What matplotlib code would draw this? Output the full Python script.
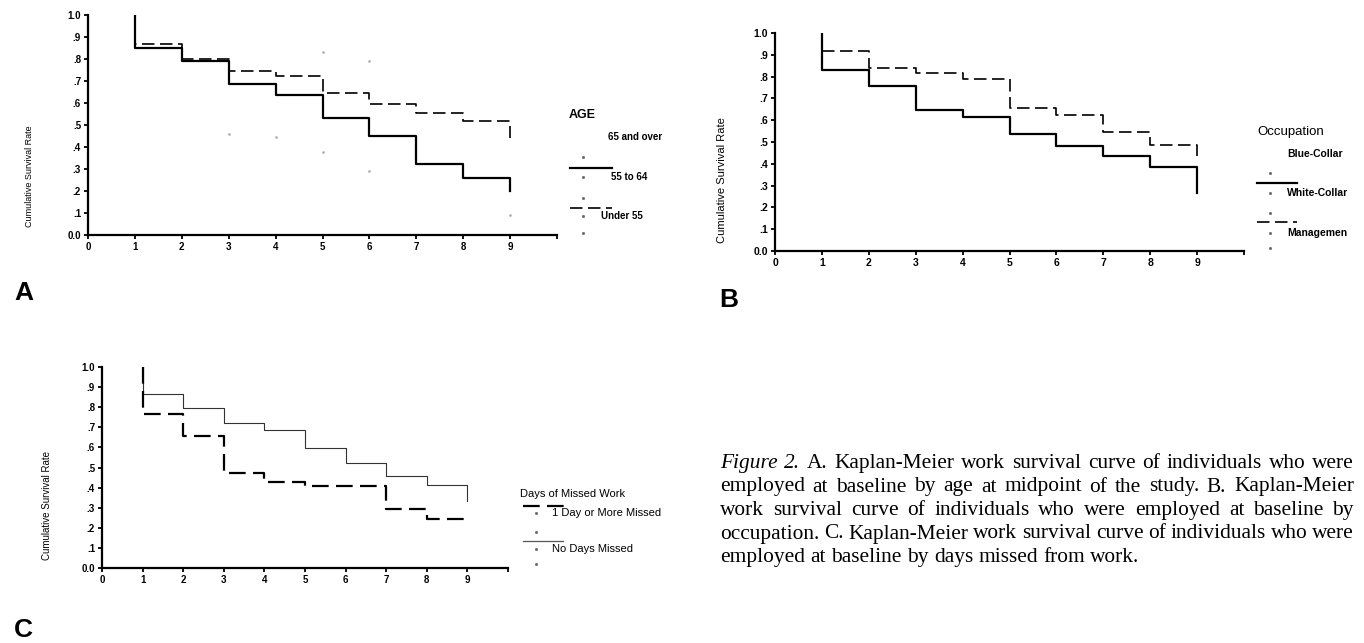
import matplotlib
matplotlib.use("Agg")
import matplotlib.pyplot as plt
from matplotlib.lines import Line2D

plt.rcParams['font.family'] = ['Liberation Sans', 'DejaVu Sans']

# years of follow-up (first point is the start of each curve at year 1)
years = [1, 1, 2, 3, 4, 5, 6, 7, 8, 9]

# A. by age
age_55_64 = [1.0, 0.852, 0.792, 0.685, 0.635, 0.531, 0.452, 0.324, 0.258, 0.198]
age_under55 = [1.0, 0.870, 0.800, 0.745, 0.724, 0.644, 0.596, 0.553, 0.516, 0.442]
# faint leftover marks of the "65 and over" curve
age_65_x = [3, 4, 5, 5, 6, 6, 9]
age_65_y = [0.46, 0.445, 0.377, 0.83, 0.29, 0.79, 0.09]

# B. by occupation
occ_white = [1.0, 0.829, 0.758, 0.648, 0.614, 0.535, 0.483, 0.436, 0.386, 0.268]
occ_mgmt = [1.0, 0.917, 0.838, 0.818, 0.789, 0.655, 0.623, 0.545, 0.486, 0.435]

# C. by days of missed work
missed_some = [1.0, 0.767, 0.655, 0.473, 0.430, 0.410, 0.410, 0.293, 0.242, 0.242]
missed_none = [1.0, 0.867, 0.795, 0.720, 0.688, 0.597, 0.523, 0.457, 0.413, 0.333]

ytick_vals = [0.0, 0.1, 0.2, 0.3, 0.4, 0.5, 0.6, 0.7, 0.8, 0.9, 1.0]
ytick_labels = ['0.0', '.1', '.2', '.3', '.4', '.5', '.6', '.7', '.8', '.9', '1.0']
xtick_labels = ['0', '1', '2', '3', '4', '5', '6', '7', '8', '9', '']

caption = [
    [("Figure", "italic"), ("2.", "italic"), ("A.", "normal"), ("Kaplan-Meier", "normal"),
     ("work", "normal"), ("survival", "normal"), ("curve", "normal"), ("of", "normal"),
     ("individuals", "normal"), ("who", "normal"), ("were", "normal")],
    "employed at baseline by age at midpoint of the study. B. Kaplan-Meier",
    "work survival curve of individuals who were employed at baseline by",
    "occupation. C. Kaplan-Meier work survival curve of individuals who were",
    "employed at baseline by days missed from work.",
]

W, H = 1364, 643
fig = plt.figure(figsize=(W / 100, H / 100), dpi=100)
fig.patch.set_facecolor('white')


def fx(px):
    return px / W


def fy(py):
    return (H - py) / H


DASH = (0, (7.5, 3.3))


def setup_axes(left, top, right, bottom, tsize, ylabel_x, ylabel_size):
    ax = fig.add_axes([fx(left), fy(bottom), fx(right - left), (bottom - top) / H])
    ax.set_xlim(0, 10)
    ax.set_ylim(0, 1.0)
    for s in ['top', 'right']:
        ax.spines[s].set_visible(False)
    for s in ['left', 'bottom']:
        ax.spines[s].set_linewidth(1.6)
        ax.spines[s].set_color('black')
    ax.set_xticks(range(11))
    ax.set_xticklabels(xtick_labels, fontsize=tsize, fontweight='bold')
    ax.set_yticks(ytick_vals)
    ax.set_yticklabels(ytick_labels, fontsize=tsize, fontweight='bold')
    ax.tick_params(axis='both', direction='out', length=3, width=1.3, pad=2)
    ax.patch.set_alpha(0)
    fig.text(fx(ylabel_x), fy(bottom - 8), "Cumulative Survival Rate", rotation=90,
             ha='center', va='bottom', fontsize=ylabel_size)
    return ax


def legend_line(x0, x1, y, **kw):
    fig.add_artist(Line2D([fx(x0), fx(x1)], [fy(y), fy(y)], transform=fig.transFigure, **kw))


def legend_dots(x, ys):
    fig.add_artist(Line2D([fx(x)] * len(ys), [fy(v) for v in ys], transform=fig.transFigure,
                          linestyle='none', marker='s', markersize=1.0, color='#666666'))


# ---- Panel A ----
axA = setup_axes(88, 15, 557, 235, 7, 30, 6.5)
axA.plot(years, age_under55, drawstyle='steps-post', color='black', lw=1.2, linestyle=DASH)
axA.plot(years, age_55_64, drawstyle='steps-post', color='black', lw=1.6)
axA.plot(age_65_x, age_65_y, linestyle='none', marker='s', markersize=0.8, color='#aaaaaa')

fig.text(fx(569), fy(115), "AGE", fontsize=9, fontweight='bold', va='center')
fig.text(fx(608), fy(137), "65 and over", fontsize=7, fontweight='bold', va='center')
legend_line(570, 612, 168, color='black', lw=1.6)
fig.text(fx(611), fy(177), "55 to 64", fontsize=7, fontweight='bold', va='center')
legend_line(570, 612, 208, color='black', lw=1.2, linestyle=DASH)
fig.text(fx(601), fy(216), "Under 55", fontsize=7, fontweight='bold', va='center')
legend_dots(583, [157, 177, 198, 216, 233])
fig.text(fx(14), fy(300), "A", fontsize=19, fontweight='bold', va='baseline')

# ---- Panel B ----
axB = setup_axes(775, 33, 1244, 251, 7.5, 722, 8)
axB.plot(years, occ_mgmt, drawstyle='steps-post', color='black', lw=1.2, linestyle=DASH)
axB.plot(years, occ_white, drawstyle='steps-post', color='black', lw=1.6)

fig.text(fx(1257), fy(132), "Occupation", fontsize=9.5, va='center')
fig.text(fx(1287), fy(154), "Blue-Collar", fontsize=7.5, fontweight='bold', va='center')
legend_line(1257, 1297, 183, color='black', lw=1.6)
fig.text(fx(1287), fy(193), "White-Collar", fontsize=7.5, fontweight='bold', va='center')
legend_line(1257, 1297, 222, color='black', lw=1.2, linestyle=DASH)
fig.text(fx(1287), fy(233), "Managemen", fontsize=7.5, fontweight='bold', va='center')
legend_dots(1270, [173, 193, 213, 233, 248])
fig.text(fx(719), fy(307), "B", fontsize=19, fontweight='bold', va='baseline')

# ---- Panel C ----
axC = setup_axes(102, 367, 508, 568, 7, 47, 7)
axC.plot(years, missed_none, drawstyle='steps-post', color='#333333', lw=0.8)
axC.plot(years, missed_some, drawstyle='steps-post', color='black', lw=1.6, linestyle=DASH)

fig.text(fx(520), fy(494), "Days of Missed Work", fontsize=8, va='center')
legend_line(523, 565, 506, color='black', lw=1.6, linestyle=DASH)
fig.text(fx(552), fy(513), "1 Day or More Missed", fontsize=8, va='center')
legend_line(523, 563, 541, color='#555555', lw=0.9)
fig.text(fx(552), fy(549), "No Days Missed", fontsize=8, va='center')
legend_dots(536, [513, 532, 549, 564])
fig.text(fx(14), fy(637), "C", fontsize=19, fontweight='bold', va='baseline')

# ---- caption, justified ----
renderer = fig.canvas.get_renderer()
cap_left, cap_right = 720, 1354
cap_size = 15.4
base0, lead = 468, 23.5
for i, line in enumerate(caption):
    if isinstance(line, str):
        line = [(w, "normal") for w in line.split()]
    y = fy(base0 + i * lead)
    texts = [fig.text(0, y, w, fontsize=cap_size, family='Liberation Serif', style=st,
                      va='baseline') for w, st in line]
    widths = [t.get_window_extent(renderer).width for t in texts]
    if i == len(caption) - 1:
        gap = 0.25 * cap_size * 100 / 72
    else:
        gap = (cap_right - cap_left - sum(widths)) / (len(texts) - 1)
    x = cap_left
    for t, w in zip(texts, widths):
        t.set_x(fx(x))
        x += w + gap

fig.savefig("out.png", dpi=100, facecolor='white')
